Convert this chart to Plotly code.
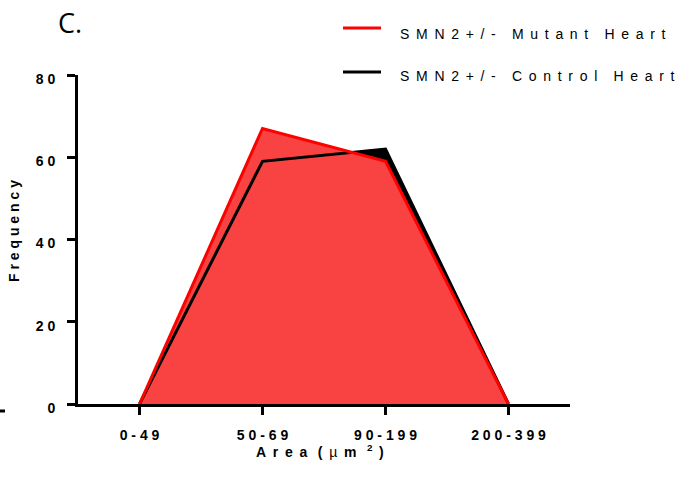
import plotly.graph_objects as go

categories = ["0-49", "50-69", "90-199", "200-399"]
mutant = [0, 67, 59, 0]
control = [0, 59, 62, 0]
y_ticks = [0, 20, 40, 60, 80]
series_names = ["SMN2+/- Mutant Heart", "SMN2+/- Control Heart"]

GAP_TICK = "\u00a0"
GAP_WIDE = "\u00a0\u2009"


def spaced(s, gap):
    out = []
    for ch in s:
        out.append("\u2009" if ch == " " else ch)
    return gap.join(out)


xpos = list(range(len(categories)))
RED_LINE = "#ff0000"
RED_FILL = "rgb(249,67,67)"
FONT = "Liberation Sans, Arial, sans-serif"

# plot area in pixels: x 78..570, y 75..404
L, R, T, B = 78, 570, 75, 404
W, H = 689, 496


def px(xp):
    return (xp - L) / (R - L)


def py(yp):
    return (B - yp) / (B - T)


fig = go.Figure()
fig.add_trace(go.Scatter(x=xpos, y=control, mode="lines", fill="tozeroy",
                         fillcolor="black", line=dict(width=0, color="black"),
                         showlegend=False, hoverinfo="skip"))
fig.add_trace(go.Scatter(x=xpos, y=mutant, mode="lines", fill="tozeroy",
                         fillcolor=RED_FILL, line=dict(width=0, color=RED_FILL),
                         showlegend=False, hoverinfo="skip"))
fig.add_trace(go.Scatter(x=xpos, y=control, mode="lines",
                         line=dict(width=3, color="black"),
                         name=series_names[1], showlegend=False))
fig.add_trace(go.Scatter(x=xpos, y=mutant, mode="lines",
                         line=dict(width=3, color=RED_LINE),
                         name=series_names[0], showlegend=False))

fig.update_layout(
    width=W, height=H,
    margin=dict(l=L, r=W - R, t=T, b=H - B),
    plot_bgcolor="white", paper_bgcolor="white",
    font=dict(family=FONT, color="black"),
    showlegend=False,
    xaxis=dict(range=[-0.5, 3.5], tickmode="array", tickvals=xpos,
               ticktext=["<b>" + spaced(c, GAP_TICK) + "</b>" for c in categories],
               showgrid=False, zeroline=False, showline=True, linewidth=3,
               linecolor="black", ticks="outside", ticklen=8, tickwidth=3,
               tickcolor="black", ticklabelstandoff=8,
               tickfont=dict(size=14, family=FONT, color="black")),
    yaxis=dict(range=[0, 80], tickmode="array", tickvals=y_ticks,
               ticktext=["<b>" + spaced(str(v), GAP_TICK) + "</b>" for v in y_ticks],
               showgrid=False, zeroline=False, showline=True, linewidth=3,
               linecolor="black", ticks="outside", ticklen=8, tickwidth=3,
               tickcolor="black", ticklabelstandoff=9, ticklabelshift=4,
               tickfont=dict(size=14, family=FONT, color="black")),
)

# axis titles
fig.add_annotation(text="<b>" + spaced("Frequency", GAP_TICK) + "</b>",
                   xref="paper", yref="paper", x=px(14), y=py(231),
                   textangle=-90, showarrow=False, xanchor="center", yanchor="middle",
                   font=dict(size=14, family=FONT, color="black"))
fig.add_annotation(text="<b>" + spaced("Area", GAP_WIDE) + "\u00a0\u00a0\u2009(</b>\u00a0\u2009µ\u00a0\u2009"
                   + "<b>m\u00a0\u00a0\u2009<sup>2</sup>\u00a0\u2009)</b>",
                   xref="paper", yref="paper", x=px(320), y=py(451),
                   showarrow=False, xanchor="center", yanchor="middle",
                   font=dict(size=14, family=FONT, color="black"))

# panel label
fig.add_annotation(text="C.", xref="paper", yref="paper", x=px(56), y=py(22),
                   xanchor="left", yanchor="middle", showarrow=False,
                   font=dict(size=27, family="Open Sans, sans-serif", color="black"))

# legend drawn by hand
leg_colors = [RED_LINE, "black"]
leg_line_y = [28, 72]
leg_text_y = [34, 76]
for name, col, ly, ty in zip(series_names, leg_colors, leg_line_y, leg_text_y):
    fig.add_shape(type="line", xref="paper", yref="paper",
                  x0=px(343), x1=px(381), y0=py(ly), y1=py(ly),
                  line=dict(color=col, width=3))
    fig.add_annotation(text=spaced(name, GAP_WIDE), xref="paper", yref="paper",
                       x=px(398), y=py(ty), xanchor="left", yanchor="middle",
                       showarrow=False,
                       font=dict(size=14, family=FONT, color="black"))

# small stray mark at lower left of the reference
fig.add_shape(type="line", xref="paper", yref="paper",
              x0=px(0), x1=px(5), y0=py(411), y1=py(411),
              line=dict(color="black", width=3))

fig.write_html("out.html")
